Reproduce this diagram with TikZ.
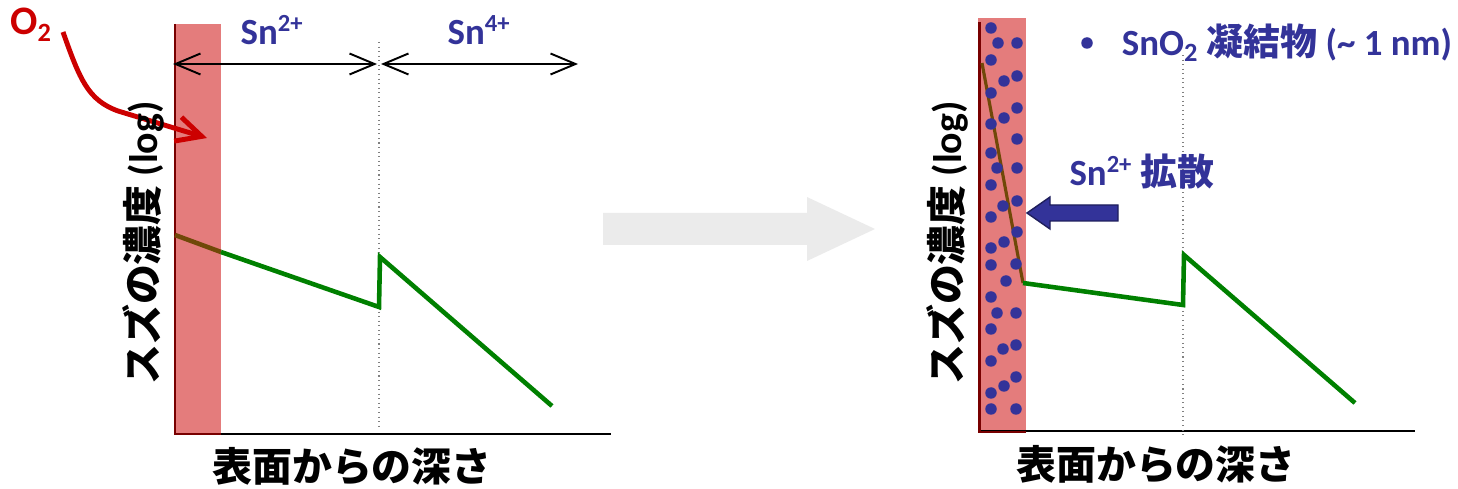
\documentclass[tikz,border=0pt]{standalone}
\usepackage{fontspec}
\setmainfont{Carlito}
\newfontfamily\jpfont{Noto Sans CJK JP}
\usetikzlibrary{arrows.meta, positioning}
\definecolor{filmpink}{RGB}{228,124,124}
\definecolor{oxidered}{RGB}{120,0,0}
\definecolor{profgreen}{RGB}{0,128,0}
\definecolor{surfbrown}{RGB}{112,72,8}
\definecolor{snblue}{RGB}{51,51,153}
\definecolor{oxred}{RGB}{204,0,0}
\definecolor{stepgray}{RGB}{235,235,235}
\newcommand\ionsup[1]{\textsuperscript{\fontsize{14}{14}\selectfont #1}}
\newcommand\ionsub[1]{\textsubscript{\fontsize{15}{15}\selectfont #1}}

\begin{document}
\begin{tikzpicture}[
    x=0.02cm, y=-0.02cm,
    >=Stealth,
    xaxis/.style={draw, black, line width=1.7pt},
    oxide/.style={draw, oxidered, line width=1.7pt},
    depthline/.style={draw, gray, dotted, line width=0.6pt},
    profile/.style={draw, profgreen, line width=2.6pt, line join=miter},
    surfline/.style={draw, surfbrown, line width=2.6pt},
    rangearrow/.style={draw, line width=1.1pt,
                  {Straight Barb[length=0.5cm, width=0.42cm]}-{Straight Barb[length=0.5cm, width=0.42cm]}},
    oxarrow/.style={draw, oxred, line width=2.8pt,
                    -{Straight Barb[length=0.5cm, width=0.5cm]}},
    ion/.style={font=\fontsize{21}{24}\selectfont\bfseries, text=snblue},
    oxlabel/.style={font=\fontsize{23}{26}\selectfont\bfseries, text=oxred},
    axislabel/.style={font=\fontsize{22.7}{26}\selectfont\bfseries},
    sndot/.style={fill=snblue},
    diffarrow/.style={fill=snblue, draw=snblue!60!black, line width=0.8pt}
  ]
  \useasboundingbox (0,0) rectangle (1458,489);

  % left: before oxidation
  \fill[filmpink] (175,24) rectangle (221,434);
  \draw[xaxis] (174,434) -- (611,434);
  \draw[oxide] (175,24) -- (175,434) -- (221,434);
  \draw[depthline] (379,42) -- (379,426);

  \coordinate (l0) at (175,235);
  \coordinate (l1) at (221,252);
  \coordinate (l2) at (379,307);
  \coordinate (l3) at (380,257);
  \coordinate (l4) at (552,406);
  \draw[surfline] (l0) -- (l1);
  \draw[profile] (l1) -- (l2) -- (l3) -- (l4);

  \coordinate (a0) at (173,64);
  \coordinate (a1) at (377,64);
  \coordinate (a2) at (381,64);
  \coordinate (a3) at (578,64);
  \draw[rangearrow] (a0) -- (a1);
  \draw[rangearrow] (a2) -- (a3);
  \node[ion] (sn2) at (272,30) {Sn\ionsup{2+}};
  \node[ion] (sn4) at (479,30) {Sn\ionsup{4+}};

  \node[oxlabel] (o2) at (31,25) {O\ionsub{2}};
  \coordinate (o2start) at (63,32);
  \coordinate (o2bend) at (118,111);
  \coordinate (o2end) at (207,138);
  \draw[oxarrow] (o2start) .. controls (80,80) and (88,100) .. (o2bend) -- (o2end);

  \node[axislabel, rotate=90] (ylab1) at (143,243) {{\jpfont スズの濃度} (log)};
  \node[axislabel] (xlab1) at (352,466) {\jpfont 表面からの深さ};

  % transition
  \fill[stepgray] (603,213) -- (807,213) -- (807,197) -- (875,229)
    -- (807,261) -- (807,245) -- (603,245) -- cycle;

  % right: after oxidation
  \fill[filmpink] (978,18) rectangle (1026,432);
  \draw[xaxis] (978,431) -- (1415,431);
  \draw[oxide] (979,22) -- (979,432) -- (1026,432);
  \draw[depthline] (1183,55) -- (1183,437);

  \coordinate (r0) at (982,63);
  \coordinate (r1) at (1023,283);
  \coordinate (r2) at (1183,305);
  \coordinate (r3) at (1184,255);
  \coordinate (r4) at (1355,403);
  \draw[surfline, line width=1.8pt] (r0) -- (r1);
  \draw[profile] (r1) -- (r2) -- (r3) -- (r4);

  \foreach \px/\py in {991/28, 998/43, 1017/43, 991/60, 1004/81, 1017/76,
      991/93, 1004/118, 1017/108, 991/124, 1017/139, 991/153, 997/168,
      1017/168, 991/185, 1003/206, 1017/201, 991/217, 1017/232, 1004/242,
      991/248, 991/265, 1016/264, 1006/281, 991/297, 997/313, 1016/313,
      991/329, 1003/349, 1016/345, 991/361, 1016/377, 1004/386, 991/393,
      991/409, 1016/409}
    \fill[sndot] (\px,\py) circle (0.115cm);

  \node[circle, fill=snblue, inner sep=0pt, minimum size=0.23cm] (bullet) at (1087,43) {};
  \node[ion, right=0.45cm of bullet] (legend)
    {SnO\ionsub{2} {\jpfont 凝結物} (\textasciitilde{} 1 nm)};

  \node[ion] (diff) at (1142,172) {Sn\ionsup{2+} {\jpfont 拡散}};
  \filldraw[diffarrow] (1118,205) -- (1050,205) -- (1050,197) -- (1027,213)
    -- (1050,229) -- (1050,221) -- (1118,221) -- cycle;

  \node[axislabel, rotate=90] (ylab2) at (947,243) {{\jpfont スズの濃度} (log)};
  \node[axislabel] (xlab2) at (1156,464) {\jpfont 表面からの深さ};
\end{tikzpicture}
\end{document}
